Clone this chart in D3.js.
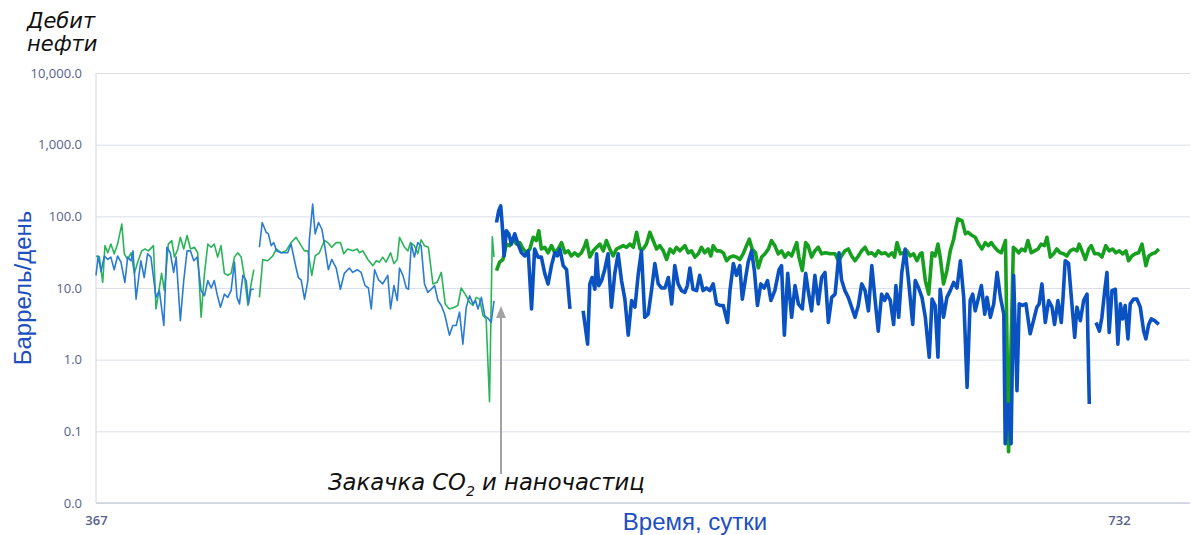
<!DOCTYPE html>
<html>
<head>
<meta charset="utf-8">
<script src="https://cdn.jsdelivr.net/npm/d3@7"></script>
<style>
  body { margin: 0; background: #fff; }
  svg { display: block; }
</style>
</head>
<body>
<div class="container"></div>
<script>
// y ticks (log scale, bottom tick shown as "0.0")
var yTicks = [0.01, 0.1, 1, 10, 100, 1000, 10000];
var yLabels = ["0.0", "0.1", "1.0", "10.0", "100.0", "1,000.0", "10,000.0"];
var xTicks = [367, 732];

// before injection (thin lines)
var greenBeforeDays = [
  367, 368.2, 369.4, 370.2, 371.2, 372.3, 373.5, 374.7, 376.2, 377.1,
  378.3, 379.5, 380.7, 381.9, 383.3, 384.5, 385.7, 387.5, 388.4, 389.6,
  390.4, 391.4, 392.8, 394, 395, 396.2, 397.1, 398.3, 399.5, 400.7,
  402.1, 403.3, 404.5, 405.7, 406.9, 408.1, 409.2, 410.4, 411.6, 412.8,
  414, 415.2, 416.4, 417.6, 418.8, 420, 421.2, 422.1, 423.3, 424.3,
  425.3, 426.5, 428.3, 430.1, 431.3, 433.1, 434.8, 436.6, 438.4, 440.2,
  441.4, 442.6, 444, 445.2, 446.7, 448.5, 449.7, 451.1, 452.7, 454.2,
  455.4, 456.8, 458.6, 460.2, 461, 462.2, 464, 465.8, 467, 468.1,
  469.3, 470.5, 472.1, 473.3, 474.5, 475.3, 477.1, 478.3, 479.2, 480.6,
  481.8, 483, 484.2, 485.6, 487.2, 488.7, 490.2, 491.6, 493.1, 494.9,
  496.1, 497.3, 498.7, 500.3, 501.5, 502.7, 503.9, 505.1, 506.2, 507.4,
  508.4, 509
];
var greenBefore = [
  28, 27, 12, 39, 31, 41, 30, 41, 78, 30,
  25, 31, 16, 23, 33, 35, 33, 39, 5.1, 10,
  16, 9.2, 41, 46, 27, 35, 51, 35, 54, 35,
  37, 31, 3.9, 16, 41, 37, 41, 27, 39, 16,
  15, 16, 27, 31, 27, 14, 5.7, 10, 18, null,
  7.4, 25, 24, 28, 35, 31, 33, 43, 51, 39,
  33, 33, 15, 28, 31, 46, 43, 37, 43, 43,
  30, 35, 33, 35, 31, 33, 25, 20.5, 24, 23,
  27, 23, 31, 22, 25, 51, 37, 33, 43, 39,
  30, 47, 39, 37, 11.4, 12, 16.5, 6, 5.1, 5.4,
  5.7, 10, 8.2, 6.3, 5.7, 7.4, 7, 4.1, 3.7, 0.26,
  52, 27
];
var blueBeforeDays = [
  367, 367.8, 368.8, 370, 371.2, 372.3, 373.5, 374.7, 375.9, 377.3,
  378.3, 379.5, 380.2, 381.3, 382.5, 383, 384.2, 385.4, 386.6, 388.4,
  389.6, 391.2, 392.3, 393.5, 394.7, 395.6, 397.1, 398.3, 399.5, 400.7,
  401.9, 403.1, 404.5, 405.7, 406.9, 408.1, 409.2, 410.2, 411.4, 412.8,
  414, 415.2, 416.4, 417.3, 418.2, 419.4, 420.6, 421.4, 422.3, 423.3,
  424.3, 425.3, 426.3, 427.7, 428.5, 429.5, 430.4, 431.4, 433.1, 435.4,
  436.6, 438.4, 439.2, 440.2, 441.4, 442.6, 443.1, 444.3, 445.2, 446.4,
  447.6, 448.5, 449.9, 451.1, 452.7, 454.2, 455.6, 457.4, 458.6, 460.2,
  461.6, 463, 464.2, 465.2, 466.4, 467.8, 469.3, 471.1, 472.1, 473.3,
  474.5, 475.3, 476.5, 477.7, 478.5, 479.5, 480.6, 481.8, 483, 484.2,
  485.4, 486.6, 487.8, 489, 490.2, 491.4, 493.1, 494.3, 495.5, 496.7,
  497.9, 499.1, 500.3, 501.5, 502.4, 503.3, 504.5, 505.7, 507.1, 508, 509
];
var blueBefore = [
  15, 28, 17, 28, 25, 27, 18, 28, 23, 12,
  27, 24, 33, 7, 17, 24, 14, 30, 27, 7.4,
  9.2, 3.0, 37, 31, 16.5, 27, 3.5, 12.7, 33, 33,
  24, 27, 9.2, 7.8, 12.7, 10, 12.7, 8.2, 5.4, 8.2,
  7.4, 9.2, 23, 7.4, 6, 15, 12.7, 6, 9.6, 9.6,
  null, 37, 82, 60, 57, 39, 43, 33, 31, 31,
  41, 19, 14, 13, 7, 12.7, 46, 148, 57, 82,
  66, 41, 18, 25, 19, 9.6, 16, 19, 16.5, 18,
  16.5, 10.8, 10, 5.1, 18, 13, 11.4, 15, 5.1, 10.8,
  6.7, 19, 15, 10, 9.6, 41, 27, 43, 39, 11.4,
  8.7, 9.6, 10.8, 6.7, 5.7, 4.3, 2.2, 3.0, 3.0, 4.6,
  1.65, 5.4, 7.8, 6, 6.7, 5.1, 7.4, 4.1, 3.7, 3.3, 6.6
];

// after injection (thick lines)
var greenAfterDays = [
  509.9, 511, 512.2, 513.4, 514.6, 515.8, 517, 518.2, 519.4, 520.6,
  521.8, 523, 524.1, 525, 525.9, 527.1, 528.3, 529.5, 530.7, 531.9,
  533.1, 534.3, 535.5, 536.6, 537.8, 539, 540.2, 541.4, 542, 543.2,
  544.4, 545.6, 546.8, 548, 549.1, 550.3, 551.5, 552.7, 553.9, 555.1,
  556.3, 557.5, 558.7, 559.9, 561.1, 562.2, 563.4, 564.6, 565.8, 567,
  568.2, 569.4, 570.6, 571.8, 573, 574.1, 575.3,
  577.1, 578.3, 579.5, 580.7, 581.9, 583, 584.2, 585.4, 586.4, 587.2,
  588.4, 589.6, 590.8, 592, 593.2, 594.4, 595.5, 596.7, 597.9, 599.1,
  600.1, 601.1, 602.3, 603.3, 604.5, 605.7, 606.9, 608, 609.2, 610.4,
  611.6, 612.8, 614, 615.2, 617, 617.8, 619, 620.2, 621.1, 622.3,
  623.5, 624.7, 625.9, 627.3, 628.9, 630.7, 631.9, 633, 634.2, 635.4,
  636.6, 637.8, 639, 640.2, 641.4, 642.6, 643.8, 645, 646.1, 647.3,
  648.6, 649.8, 651, 651.9, 652.8, 654, 655.1, 656.3, 657.5, 658.7,
  659.9, 661.1, 661.7, 662.9, 664.1, 665.3, 666.4, 667.4, 668.2, 669.4,
  670.6, 671.8, 673, 673.8, 674.5, 676, 677.2, 678.1, 679.3, 680.7,
  681.9, 683.1, 684.3, 685.3, 686.4, 687.6, 688.8, 690, 691.5,
  692.6, 694.3, 695, 696.2, 697.3, 698.5, 699.5, 700.7,
  701.9, 703.1, 704.2, 705.4, 706.3, 707.5, 708.7, 709.8, 711, 712.2,
  713.4, 714.6, 715.8, 717, 717.8, 718.8, 720, 721.2, 722.1, 723.3,
  724.7, 725.9, 727.3, 728.5, 729.7, 730.9, 732.1, 733.3, 734.5, 735.4,
  736.6, 737.8, 739, 740.2, 741.6, 742.6, 743.8, 744.9, 746.2
];
var greenAfter = [
  17.5, 23, 25, 41, 39, 48, 41, 43, 35, 31,
  35, 51, 46, 63, 35, 37, 31, 39, 31, 35,
  43, 31, 33, 28, 31, 28, 31, 39, 46, 27,
  33, 37, 41, 33, 46, 35, 28, 35, 37, 39,
  37, 41, 37, 60, 35, 35, 41, 60, 46, 35,
  39, 33, 25, 35, 31, 37, 33,
  39, 31, 33, 27, 30, 37, 31, 35, 28, 39,
  33, 33, 31, 24, 27, 28, 27, 25, 30, 39,
  48, 35, 31, 19, 27, 30, 35, 46, 39, 30,
  33, 27, 31, 28, 43, 27, 17.5, 43, 39, 27,
  33, 37, 30, 31, 30, 30, 24, 28, 33, 35,
  28, 24, 28, 33, 37, 30, 31, 28, 33, 30,
  31, 28, 31, 27, 43, 30, 31, 33, 28, 30,
  24, 30, 31, 12.7, 8.2, 31, 28, 41, 27, 11.4,
  17.5, 33, 48, 70, 92, 87, 57, 60, 55, 51,
  41, 35, 43, 39, 43, 37, 33, 31, 46,
  0.052, 37, 35, 31, 35, 33, 46, 31,
  33, 35, 41, 39, 51, 27, 30, 35, 31, 30,
  28, 33, 35, 33, 41, 33, 25, 35, 39, 30,
  30, 27, 39, 33, 35, 31, 33, 30, 33, 24,
  28, 30, 31, 41, 20.5, 28, 30, 31, 35
];
var blueAfterDays = [
  509.9, 510.7, 511.4, 512, 512.6, 513.4, 514.3, 515.2, 516.4, 517.6,
  518.8, 520, 521.2, 522.4, 523.5, 524.7, 525.9, 527.1, 528.3, 529.5,
  530.7, 531.6, 532.5, 533.7, 534.9, 536.1, 538.5, 540.8, 542.4, 543.2,
  544, 545, 545.6, 546.4, 547.4, 548.5, 549.7, 550.9, 552.1, 553.3,
  554.5, 555.7, 556.9, 558.1, 559.3, 560.5, 561.6, 562.8, 564, 565.2,
  566.4, 567.6, 568.8, 570, 571.2, 572.4, 573.5, 574.7,
  575.9, 577.1, 578, 578.9, 580, 581.3, 582.4, 583.6, 584.8, 586,
  587.2, 588.4, 589.6, 590.8, 592.3, 593.2, 594.4, 595.5, 596.7, 597.6,
  598.8, 599.7, 600.9, 601.9, 603, 604.2, 605.4, 606.6, 607.8, 609.2,
  610.7, 611.6, 612.6, 613.8, 615.2, 616.4, 617.6, 619, 620.2, 621.1,
  622.3, 623.5, 624.7, 625.9, 627.1, 628.3, 629.5, 630.7, 632.1, 633,
  634.2, 635.4, 636.6, 637.8, 639, 640.2, 641.4, 642.6, 643.8, 645,
  646.1, 647.3, 648.4, 649.2, 650.4, 651.6, 652.4, 653.4, 654.5, 655.7,
  656.9, 658.4, 659.3, 660.5, 661.7, 662.9, 664.3, 665.3, 666.4, 667.4,
  668.2, 669.4, 670.6, 671.8, 673, 674.2, 675.4, 676.6, 677.8, 678.9,
  679.8, 680.7, 681.9, 682.9, 684.1, 684.9, 686.1, 687.3, 688.5, 689.7,
  690.9, 691.4, 692.4, 693.5, 694.4, 695.6, 696.4, 697.6, 698.8, 700.3,
  701.5, 702.7, 703.5, 704.5, 705.7, 706.9, 708.1, 709, 710.2, 711.4,
  712, 712.8, 714, 715, 716.2, 717, 718.2, 719.4, 720.6, 721.4,
  722.6, 723.8, 725, 725.9, 726.9, 727.7, 728.5, 729.5, 730.7, 731.6,
  732.5, 733.3, 734.2, 735.2, 736, 737.2, 738.4, 739.6, 740.8, 741.6,
  742.6, 743.5, 744.7, 746.2
];
var blueAfter = [
  82, 120, 140, 70, 28, 63, 57, 41, 57, 41,
  31, 28, 33, 5.1, 35, 27, 27, 16, 11.4, 20.5,
  31, 28, 35, 20.5, 18, 5.1, null, 4.8, 1.65, 11.4,
  14, 9.6, 30, 10.8, 12.7, 18, 30, 5.4, 16, 30,
  12.7, 7, 2.2, 6.7, 5.4, 16, 33, 3.9, 4.3, 9.2,
  22, 11.4, 10, 10, 14, 6, 20.5, 11.4,
  9.2, 8.7, 10.8, 19, 9.6, 9.2, 15, 9.2, 10, 9.2,
  11.4, 6, 5.7, 5.7, 3.3, 9.2, 22, 15, 20.5, 7,
  14, 23, 33, 17.5, 5.7, 11.4, 10, 12.7, 6.7, 9.2,
  18, 20.5, 2.2, 16, 3.9, 10.8, 6, 5.1, 16, 9.2,
  4.8, 15, 6, 14, 16.5, 3.3, 7.4, 8.2, 31, 13,
  9.2, 7.4, 5.4, 3.9, 5.7, 11.4, 9.2, 4.8, 20.5, 6.7,
  2.5, 8.2, 6.7, 8.2, 6.7, 3.1, 10.8, 3.9, 16.5, 35,
  12.7, 3.1, 12.7, 10, 7.4, 3.9, 1.08, 7, 5.7, 1.08,
  9.6, 3.9, 7.4, 9.2, 12, 10, 24, 7.4, 0.41, 6.7,
  8.2, 4.8, 7.4, 10.8, 4.3, 7.4, 3.9, 6, 16.5, 7.4,
  4.3, 0.067, 0.24, 0.067, 15, 0.37, 6, 5.7, 6, 2.3,
  3.5, 5.4, 6, 11.4, 3.3, 6.7, 5.4, 3.1, 6.7, 3.3,
  7, 24, 22, 7.4, 2.05, 5.4, 3.5, 6.7, 8.2, 0.24,
  null, 3.3, 2.5, 3.9, 9.2, 16.5, 2.4, 9.2, 9.6, 1.65,
  6, 3.7, 5.7, 1.95, 6, 7, 7, 5.4, 2.5, 1.95,
  3.1, 3.7, 3.5, 3.1
];

var injectionDay = 511.5;

var w = 1195, h = 535;
var plotLeft = 96, plotRight = 1190, plotTop = 73, plotBottom = 503;

var svg = d3.select(".container").append("svg")
    .attr("width", w).attr("height", h);

var x = d3.scaleLinear().domain([367, 732]).range([plotLeft, 1119]);
var y = d3.scaleLog().domain([0.01, 10000]).range([plotBottom, plotTop]);

// gridlines + y labels
var yAxis = svg.append("g")
    .attr("transform", "translate(" + plotLeft + ",0)")
    .call(d3.axisLeft(y).tickValues(yTicks).tickSize(-(plotRight - plotLeft)).tickPadding(14)
        .tickFormat(function(d, i) { return yLabels[i]; }));
yAxis.select(".domain").remove();
yAxis.selectAll("line").attr("stroke", "#dcdfea").attr("stroke-width", 1);
yAxis.selectAll("text")
    .attr("fill", "#56618c")
    .attr("font-family", "Open Sans")
    .attr("font-size", "13px");

svg.append("line")
    .attr("x1", plotLeft).attr("x2", plotLeft).attr("y1", plotTop).attr("y2", plotBottom)
    .attr("stroke", "#d3d6e2").attr("stroke-width", 1);
svg.append("line")
    .attr("x1", plotLeft).attr("x2", plotRight).attr("y1", plotBottom).attr("y2", plotBottom)
    .attr("stroke", "#cdd0dc").attr("stroke-width", 1.5);

var xAxis = svg.append("g")
    .attr("transform", "translate(0," + plotBottom + ")")
    .call(d3.axisBottom(x).tickValues(xTicks).tickSize(0).tickPadding(13).tickFormat(d3.format("d")));
xAxis.select(".domain").remove();
xAxis.selectAll("text")
    .attr("fill", "#56618c")
    .attr("font-family", "Open Sans")
    .attr("font-weight", "600")
    .attr("font-size", "13px");

function pts(days, vals) {
    return days.map(function(d, i) { return { d: d, v: vals[i] }; });
}

var line = d3.line()
    .defined(function(p) { return p.v != null; })
    .x(function(p) { return x(p.d); })
    .y(function(p) { return y(p.v); });

var series = [
    { data: pts(greenBeforeDays, greenBefore), color: "#2ab45a", width: 1.6 },
    { data: pts(blueBeforeDays, blueBefore), color: "#2a7bd2", width: 1.6 },
    { data: pts(greenAfterDays, greenAfter), color: "#17a020", width: 3.6 },
    { data: pts(blueAfterDays, blueAfter), color: "#0a52c2", width: 3.6 }
];

svg.selectAll("path.series")
    .data(series)
    .enter()
    .append("path")
    .attr("class", "series")
    .attr("d", function(s) { return line(s.data); })
    .attr("fill", "none")
    .attr("stroke", function(s) { return s.color; })
    .attr("stroke-width", function(s) { return s.width; })
    .attr("stroke-linejoin", "round");

// injection arrow
var ax = x(injectionDay);
svg.append("line")
    .attr("x1", ax).attr("x2", ax).attr("y1", 474).attr("y2", 316)
    .attr("stroke", "#a3a3a3").attr("stroke-width", 2);
svg.append("path")
    .attr("d", "M" + (ax - 5) + ",318 L" + ax + ",306 L" + (ax + 5) + ",318 Z")
    .attr("fill", "#a3a3a3");

var ann = svg.append("text")
    .attr("x", 328).attr("y", 490)
    .attr("font-family", "DejaVu Sans")
    .attr("font-style", "italic")
    .attr("font-size", "22.7px")
    .attr("fill", "#111");
ann.append("tspan").text("Закачка CO");
ann.append("tspan").attr("font-size", "14px").attr("dy", 6).text("2");
ann.append("tspan").attr("dy", -6).text(" и наночастиц");

// titles
svg.append("text")
    .attr("transform", "translate(31,288) rotate(-90)")
    .attr("text-anchor", "middle")
    .attr("font-family", "Liberation Sans")
    .attr("font-size", "24px")
    .attr("fill", "#1d4fbf")
    .text("Баррель/день");

svg.append("text")
    .attr("x", 695).attr("y", 530)
    .attr("text-anchor", "middle")
    .attr("font-family", "Liberation Sans")
    .attr("font-size", "24px")
    .attr("fill", "#1d4fbf")
    .text("Время, сутки");

var ttl = svg.append("text")
    .attr("font-family", "DejaVu Sans")
    .attr("font-style", "italic")
    .attr("font-size", "21px")
    .attr("fill", "#111");
ttl.append("tspan").attr("x", 27).attr("y", 28).text("Дебит");
ttl.append("tspan").attr("x", 27).attr("y", 51).text("нефти");
</script>
</body>
</html>
